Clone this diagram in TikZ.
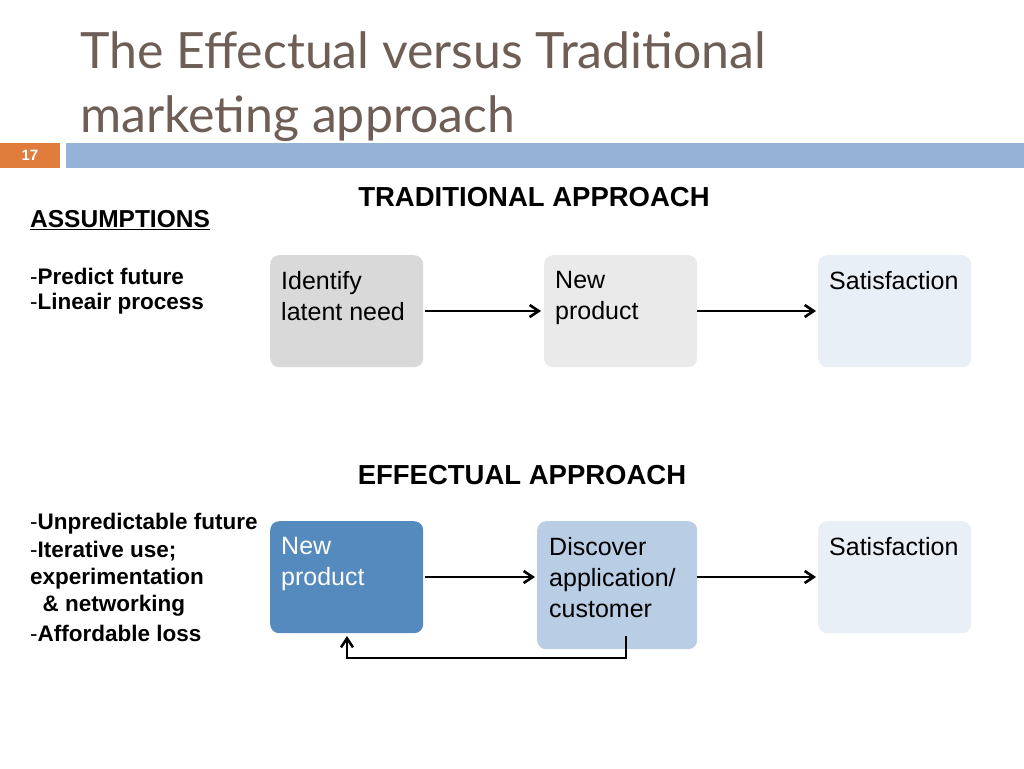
\documentclass[tikz,border=0pt]{standalone}
\usepackage{fontspec}
\setmainfont{Liberation Sans}
\newfontfamily\titlefont{Lato}
\usetikzlibrary{arrows.meta}
\begin{document}
\begin{tikzpicture}[x=1pt,y=-1pt,
  box/.style={rounded corners=9pt,minimum width=153pt,minimum height=112pt,anchor=north west,inner sep=0pt},
  lbl/.style={anchor=north west,align=left,font=\fontsize{25}{31}\selectfont,inner sep=0pt},
  arr/.style={->,line width=2.6pt,>={Straight Barb[length=9pt,width=12pt]}},
  ass/.style={anchor=west,inner sep=0pt,font=\fontsize{22.5}{26}\selectfont}]
\useasboundingbox (0,0) rectangle (1024,768);
\fill[white] (0,0) rectangle (1024,768);
\definecolor{titc}{HTML}{6F5E55}
\node[anchor=west,text=titc,font=\titlefont\fontsize{50}{56}\selectfont,inner sep=0pt] (t1) at (80,50) {The Effectual versus Traditional};
\node[anchor=west,text=titc,font=\titlefont\fontsize{50}{56}\selectfont,inner sep=0pt] (t2) at (80,119) {marketing approach};
\fill[fill={rgb,255:red,224;green,124;blue,60}] (0,143) rectangle (60,168);
\node[text=white,font=\fontsize{15}{17}\selectfont\bfseries] (num) at (30,155) {17};
\fill[fill={rgb,255:red,149;green,179;blue,215}] (66,143) rectangle (1024,168);
\node[font=\fontsize{27.5}{32}\selectfont\bfseries] (h1) at (534,197) {TRADITIONAL APPROACH};
\node[font=\fontsize{27.5}{32}\selectfont\bfseries] (h2) at (522,475) {EFFECTUAL APPROACH};
\node[ass,font=\fontsize{24.5}{28}\selectfont\bfseries] (as) at (30,220) {\underline{ASSUMPTIONS}};
\node[ass] (a1) at (30,276) {-\textbf{Predict future}};
\node[ass] (a2) at (30,304) {-\textbf{Lineair process}};
\node[ass] (b1) at (30,524) {-\textbf{Unpredictable future}};
\node[ass] (b2) at (30,551) {-\textbf{Iterative use;}};
\node[ass] (b3) at (30,579) {\textbf{experimentation}};
\node[ass] (b4) at (30,606) {\textbf{\ \ \& networking}};
\node[ass] (b5) at (30,633) {-\textbf{Affordable loss}};
% top row
\node[box,fill={rgb,255:red,217;green,217;blue,217}] (n1) at (270,255) {};
\node[box,fill={rgb,255:red,234;green,234;blue,234}] (n2) at (544,255) {};
\node[box,fill={rgb,255:red,233;green,239;blue,247}] (n3) at (818,255) {};
\node[lbl] at (281,271) {Identify\\latent need};
\node[lbl] at (555,271) {New\\product};
\node[lbl] at (829,271) {Satisfaction};
\draw[arr] (425,311) -- (541,311);
\draw[arr] (697,311) -- (816,311);
% bottom row
\node[box,fill={rgb,255:red,84;green,138;blue,189}] (m1) at (270,521) {};
\node[box,minimum width=160pt,minimum height=128pt,fill={rgb,255:red,185;green,205;blue,229}] (m2) at (537,521) {};
\node[box,fill={rgb,255:red,233;green,239;blue,247}] (m3) at (818,521) {};
\node[lbl,text=white] at (281,537) {New\\product};
\node[lbl] at (549,537) {Discover\\application/\\customer};
\node[lbl] at (829,537) {Satisfaction};
\draw[arr] (425,577) -- (535,577);
\draw[arr] (697,577) -- (816,577);
\coordinate (c1) at (626,658);
\coordinate (c2) at (347,658);
\draw[arr] (626,636) -- (c1) -- (c2) -- (347,636);
\end{tikzpicture}
\end{document}
